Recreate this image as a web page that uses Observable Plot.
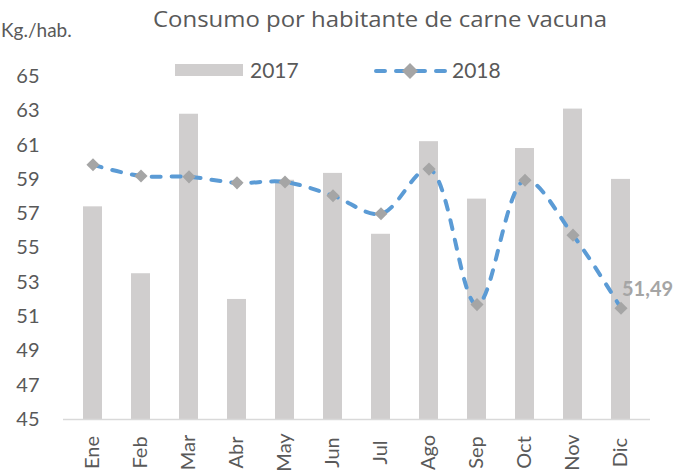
<!DOCTYPE html>
<html>
<head>
<meta charset="utf-8">
<script src="https://cdn.jsdelivr.net/npm/d3@7"></script>
<script src="https://cdn.jsdelivr.net/npm/@observablehq/plot@0.6"></script>
<style>
  html, body { margin: 0; padding: 0; background: #fff; }
  #wrap { position: relative; width: 687px; height: 472px; overflow: hidden; font-family: Lato, "Open Sans", sans-serif; color: #595959; }
  #wrap svg.plot { position: absolute; left: 0; top: 0; }
  .legend { position: absolute; left: 0; top: 0; }
</style>
</head>
<body>
<div id="wrap"></div>
<script>
const months = ["Ene","Feb","Mar","Abr","May","Jun","Jul","Ago","Sep","Oct","Nov","Dic"];
const values2017 = [57.4, 53.5, 62.8, 52.0, 58.95, 59.35, 55.8, 61.2, 57.85, 60.8, 63.1, 59.0];
const values2018 = [59.85, 59.2, 59.15, 58.8, 58.85, 58.05, 57.0, 59.6, 51.7, 58.95, 55.75, 51.49];
const yTicks = [45, 47, 49, 51, 53, 55, 57, 59, 61, 63, 65];
const seriesNames = ["2017", "2018"];
const lastLabel = "51,49";
const titleText = "Consumo por habitante de carne vacuna";
const yLabelText = "Kg./hab.";

const data = months.map((m, i) => ({month: m, v17: values2017[i], v18: values2018[i]}));
const last = data[data.length - 1];

const gray = "#595959";
const barColor = "#d0cece";
const lineColor = "#5b9bd5";
const dotColor = "#a5a5a5";
const font = "Lato, 'Open Sans', sans-serif";

const chart = Plot.plot({
  width: 687,
  height: 472,
  marginLeft: 63,
  marginRight: 37,
  marginTop: 76,
  marginBottom: 53,
  style: {fontFamily: font, fontSize: "20px", color: gray, background: "transparent", overflow: "visible"},
  x: {domain: months, paddingInner: 0.6, paddingOuter: 0.3, label: null},
  y: {domain: [45, 65], label: null},
  marks: [
    Plot.barY(data, {x: "month", y1: 45, y2: "v17", fill: barColor}),
    Plot.ruleY([45], {stroke: "#d9d9d9", strokeWidth: 1.5}),
    Plot.axisY({ticks: yTicks, tickSize: 0, tickPadding: 24, fontSize: 20, fill: gray, label: null}),
    Plot.axisX({tickSize: 0, tickPadding: 33, tickRotate: -90, textAnchor: "middle", fontSize: 20, fill: gray, label: null}),
    Plot.line(data, {x: "month", y: "v18", stroke: lineColor, strokeWidth: 4, strokeDasharray: "9,11", strokeLinecap: "round", curve: "catmull-rom"}),
    Plot.dot(data, {x: "month", y: "v18", symbol: "diamond2", r: 5.9, fill: dotColor, stroke: null}),
    Plot.text([last], {x: "month", y: "v18", text: () => lastLabel, dx: 1, dy: -19, textAnchor: "start", fontWeight: "bold", fontSize: 20, fill: dotColor})
  ]
});
chart.classList.add("plot");
const wrap = document.getElementById("wrap");
wrap.appendChild(chart);

// Title, y label and legend
const ns = "http://www.w3.org/2000/svg";
const leg = document.createElementNS(ns, "svg");
leg.setAttribute("class", "legend");
leg.setAttribute("width", 687);
leg.setAttribute("height", 100);
leg.innerHTML = `
  <text x="380" y="27" text-anchor="middle" font-size="22" fill="${gray}" font-family="'Open Sans', sans-serif" textLength="454" lengthAdjust="spacingAndGlyphs">${titleText}</text>
  <text x="1" y="37" font-size="19" fill="${gray}" font-family="${font}">${yLabelText}</text>
  <rect x="175" y="64" width="68" height="12" fill="${barColor}"></rect>
  <text x="250" y="78" font-size="21" fill="${gray}" font-family="${font}">${seriesNames[0]}</text>
  <line x1="376" y1="71" x2="446" y2="71" stroke="${lineColor}" stroke-width="4" stroke-linecap="round" stroke-dasharray="9,11"></line>
  <path d="M410,63 L418,71 L410,79 L402,71 Z" fill="${dotColor}"></path>
  <text x="452" y="78" font-size="21" fill="${gray}" font-family="${font}">${seriesNames[1]}</text>
`;
wrap.appendChild(leg);
</script>
</body>
</html>
